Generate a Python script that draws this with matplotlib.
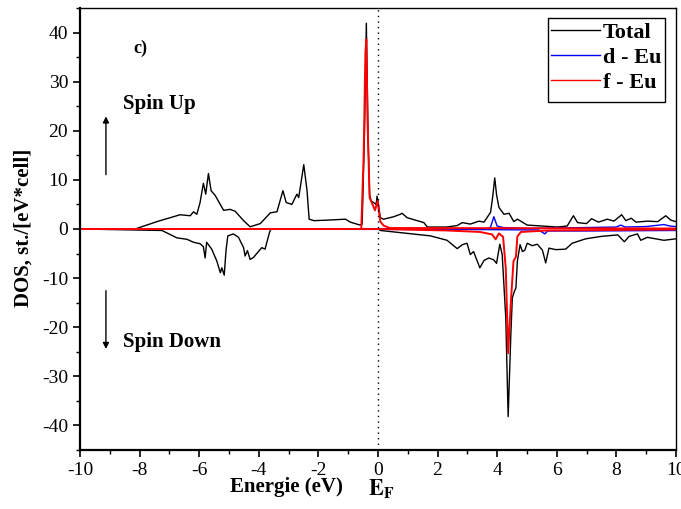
import matplotlib
matplotlib.use("Agg")
import matplotlib.pyplot as plt
from matplotlib.lines import Line2D
from matplotlib.patches import Rectangle

plt.rcParams["font.family"] = ["Liberation Serif", "DejaVu Serif"]
plt.rcParams["mathtext.fontset"] = "stix"
plt.rcParams["axes.unicode_minus"] = False

# total DOS, spin up
e_tot_up = [-10, -8.15, -7.42, -7.03, -6.64, -6.30, -6.19, -6.08, -5.97, -5.86, -5.78,
            -5.69, -5.60, -5.46, -5.18, -4.96, -4.79, -4.51, -4.29, -3.95, -3.61, -3.39,
            -3.19, -3.08, -2.89, -2.72, -2.66, -2.49, -2.38, -2.31, -2.15, -1.71, -1.09,
            -0.93, -0.60, -0.53, -0.45, -0.39, -0.33, -0.28, -0.23, -0.10, -0.06, -0.03,
            0.03, 0.08, 0.19, 0.53, 0.75, 0.81, 0.98, 1.54, 1.66, 2.30, 2.66, 2.83, 3.10,
            3.39, 3.56, 3.78, 3.85, 3.92, 3.98, 4.06, 4.23, 4.40, 4.56, 4.68, 5.01, 6.02,
            6.35, 6.56, 6.70, 7.00, 7.17, 7.40, 7.70, 7.92, 8.18, 8.32, 8.50, 8.66, 9.05,
            9.39, 9.66, 9.83, 10.0]
dos_tot_up = [0, 0, 1.5, 2.2, 2.9, 2.7, 3.5, 3.0, 5.4, 9.3, 7.1,
              11.3, 7.8, 6.8, 3.8, 4.0, 3.6, 1.7, 0.45, 1.1, 3.3, 3.5,
              7.8, 5.4, 5.0, 7.1, 6.4, 13.1, 7.8, 2.0, 1.7, 1.8, 2.0,
              1.4, 0.8, 1.0, 20.0, 41.9, 18.0, 7.0, 5.7, 5.2, 5.0, 6.7,
              4.4, 2.3, 2.0, 2.5, 3.0, 3.2, 2.3, 1.3, 0.4, 0.4, 0.7, 1.3, 1.0,
              1.6, 1.4, 3.4, 6.5, 10.4, 7.0, 4.4, 3.0, 3.2, 1.5, 2.0, 0.8, 0.4,
              0.6, 2.7, 1.3, 1.1, 2.1, 1.4, 2.0, 1.6, 2.9, 1.7, 2.2, 1.4, 1.6,
              1.5, 2.7, 1.8, 1.5]

# total DOS, spin down
e_tot_dn = [-10, -7.25, -6.75, -6.41, -6.19, -5.97, -5.86, -5.80, -5.75, -5.58, -5.41,
            -5.29, -5.24, -5.16, -5.10, -5.04, -4.85, -4.68, -4.51, -4.46, -4.38, -4.29,
            -4.18, -3.90, -3.79, -3.64, -3.59, 0.0, 0.08, 1.76, 2.32, 2.66, 2.83, 2.99,
            3.10, 3.21, 3.42, 3.56, 3.72, 3.89, 3.98, 4.09, 4.17, 4.29, 4.37, 4.46, 4.51,
            4.58, 4.63, 4.68, 4.77, 4.85, 4.93, 5.01, 5.18, 5.35, 5.52, 5.63, 5.74, 5.97,
            6.30, 6.52, 6.97, 7.50, 8.05, 8.27, 8.43, 8.71, 8.82, 9.04, 9.60, 10.0]
dos_tot_dn = [0, -0.3, -1.8, -2.1, -2.7, -3.0, -3.6, -5.9, -2.7, -4.1, -6.5,
              -8.9, -7.9, -9.4, -4.4, -1.4, -1.0, -1.7, -3.8, -5.5, -4.4, -6.2,
              -5.8, -3.8, -4.1, -0.7, 0, 0, -0.3, -1.4, -2.3, -4.0, -3.2, -2.9,
              -5.2, -4.6, -7.9, -6.4, -5.9, -6.3, -7.0, -3.1, -5.2, -18.1, -38.2, -21.5, -14.0,
              -12.7, -12.0, -6.5, -3.2, -4.6, -4.3, -2.9, -3.4, -3.1, -4.3, -6.9, -3.9, -4.2,
              -4.1, -2.9, -2.0, -1.5, -1.2, -2.6, -1.5, -1.0, -2.3, -1.7, -2.3, -2.0]

# Eu d states
e_d_up = [-10, 3.70, 3.78, 3.89, 4.00, 4.20, 5.0, 7.0, 8.0, 8.15, 8.3, 9.0, 9.6, 9.8, 10.0]
dos_d_up = [0, 0.1, 0.4, 2.5, 0.6, 0.3, 0.1, 0.3, 0.4, 0.8, 0.4, 0.5, 0.9, 0.6, 0.5]
e_d_dn = [-10, 3.0, 5.4, 5.6, 5.7, 7.0, 10.0]
dos_d_dn = [0, -0.1, -0.2, -1.0, -0.4, -0.4, -0.3]

# Eu f states
e_f_up = [-10, -0.56, -0.48, -0.42, -0.39, -0.35, -0.28, -0.14, -0.10, -0.01, 0.04,
          0.08, 0.19, 0.40, 10.0]
dos_f_up = [0, 0, 15, 36, 38.6, 22, 6.4, 4.4, 3.8, 5.7, 3.3,
            1.5, 0.7, 0.2, 0.1]
e_f_dn = [-10, 0.0, 2.32, 3.42, 3.83, 3.95, 4.06, 4.20, 4.29, 4.37, 4.46, 4.55, 4.63,
          4.68, 4.80, 5.70, 10.0]
dos_f_dn = [0, 0, -0.3, -0.6, -1.1, -2.1, -0.9, -1.6, -8.0, -25.3, -15.0, -6.5, -5.7,
            -1.5, -0.6, -0.3, -0.1]

legend_labels = ["Total", "d - Eu", "f - Eu"]

fig = plt.figure(figsize=(6.81, 5.09), dpi=100)
ax = fig.add_axes([0.1175, 0.1159, 0.875, 0.8684])

ax.plot(e_tot_up, dos_tot_up, color="black", lw=1.0)
ax.plot(e_tot_dn, dos_tot_dn, color="black", lw=1.0)
ax.plot(e_d_up, dos_d_up, color="#0000ff", lw=1.0)
ax.plot(e_d_dn, dos_d_dn, color="#0000ff", lw=1.0)
ax.plot(e_f_up, dos_f_up, color="#ff0000", lw=1.4)
ax.plot(e_f_dn, dos_f_dn, color="#ff0000", lw=1.4)

ax.axvline(0, color="black", ls=(0, (1, 3)), lw=1.0)

ax.set_xlim(-10, 10)
ax.set_ylim(-45, 45)
ax.set_xticks(range(-10, 11, 2))
ax.set_xticks(range(-10, 11, 1), minor=True)
ax.set_yticks(range(-40, 41, 10))
ax.set_yticks(range(-45, 46, 5), minor=True)
ax.tick_params(which="major", direction="out", length=5, width=1.2, labelsize=14,
               top=False, right=False)
ax.tick_params(which="minor", direction="out", length=3, width=1.0, top=False, right=False)
for side in ("left", "bottom"):
    ax.spines[side].set_linewidth(1.6)
for side in ("top", "right"):
    ax.spines[side].set_linewidth(1.0)

bold = dict(fontweight="bold", fontsize=15)
ax.text(-8.2, 36.8, "c)", ha="left", va="center", fontweight="bold", fontsize=13)
ax.text(-8.55, 25.4, "Spin Up", ha="left", va="center", **bold)
ax.text(-8.55, -23.1, "Spin Down", ha="left", va="center", **bold)
ax.annotate("", xy=(-9.13, 23.5), xytext=(-9.13, 10.5),
            arrowprops=dict(arrowstyle="-|>", color="black", lw=1.0, mutation_scale=9))
ax.annotate("", xy=(-9.13, -25.0), xytext=(-9.13, -12.0),
            arrowprops=dict(arrowstyle="-|>", color="black", lw=1.0, mutation_scale=9))

trans = ax.get_xaxis_transform()
ax.text(-3.08, -0.084, "Energie (eV)", transform=trans, ha="center", va="center", **bold)
ax.text(0.1, -0.088, r"$\mathbf{E_F}$", transform=trans, ha="center", va="center",
        fontsize=16)
fig.text(24 / 681, 1 - 228 / 509, "DOS, st./[eV*cell]", rotation=90,
         ha="center", va="center", **bold)

handles = [Line2D([], [], color="black", lw=1.0),
           Line2D([], [], color="#0000ff", lw=1.0),
           Line2D([], [], color="#ff0000", lw=1.0)]
ax.legend(handles, legend_labels, loc="upper left", bbox_to_anchor=(0.79, 0.968),
          borderaxespad=0, borderpad=0, frameon=False, handlelength=2.2,
          handletextpad=0.15, labelspacing=0.2, prop=dict(weight="bold", size=16))
ax.add_patch(Rectangle((0.786, 0.787), 0.196, 0.19, transform=ax.transAxes,
                       fill=False, edgecolor="black", lw=1.0, zorder=5))

fig.savefig("out.png", dpi=100)
